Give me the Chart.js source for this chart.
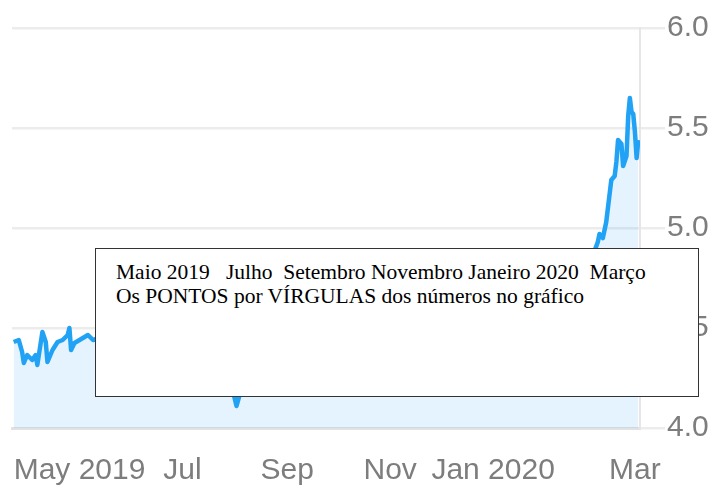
<!DOCTYPE html>
<html>
<head>
<meta charset="utf-8">
<script src="https://cdn.jsdelivr.net/npm/chart.js@4"></script>
<style>
  body { margin: 0; background: #fff; }
  #wrap { position: relative; width: 712px; height: 489px; }
  #note {
    position: absolute; left: 95px; top: 248px; width: 604px; height: 149px;
    border: 1.5px solid #333; background: #fff; box-sizing: border-box;
    font-family: "Liberation Serif", "Times New Roman", serif; font-size: 21.5px;
    line-height: 24px; color: #000; white-space: pre; padding: 11px 0 0 20px;
  }
</style>
</head>
<body>
<div id="wrap">
  <canvas id="rateChart" width="712" height="489"></canvas>
  <div id="note">Maio 2019   Julho  Setembro Novembro Janeiro 2020  Março
Os PONTOS por VÍRGULAS dos números no gráfico</div>
</div>
<script>
// days counted from 1 May 2019
const days = [-39, -36, -34, -33, -31, -28, -26, -25, -22, -20, -19, -16, -13, -10, -7, -6, -5, -3, 0, 3, 5, 8,
    12, 18, 24, 30, 36, 42, 48, 54, 60, 65, 71, 77, 83, 88, 91, 93, 96, 101, 107, 113, 119, 125, 131, 137,
    143, 149, 155, 161, 167, 173, 179, 185, 191, 197, 203, 209, 215, 221, 227, 233, 239, 245, 251, 257,
    263, 269, 275, 281, 287, 293, 299, 302,
    304, 307, 308, 310, 312, 314, 315, 317, 318, 319, 321, 322, 324, 325, 326, 327, 328, 329, 330, 331];
const rates = [4.43, 4.44, 4.38, 4.325, 4.365, 4.34, 4.365, 4.315, 4.48, 4.43, 4.33, 4.39, 4.43, 4.44, 4.465, 4.50, 4.39, 4.425, 4.44, 4.455, 4.465, 4.44,
    4.45, 4.50, 4.55, 4.52, 4.47, 4.40, 4.37, 4.36, 4.32, 4.30, 4.26, 4.22, 4.20, 4.22, 4.18, 4.11, 4.20, 4.27, 4.33, 4.40, 4.47, 4.52, 4.55, 4.58,
    4.60, 4.56, 4.53, 4.50, 4.55, 4.58, 4.55, 4.52, 4.55, 4.63, 4.66, 4.68, 4.62, 4.58, 4.55, 4.52, 4.50, 4.53, 4.58, 4.62,
    4.66, 4.68, 4.70, 4.73, 4.76, 4.78, 4.80, 4.82,
    4.86, 4.93, 4.97, 4.95, 5.03, 5.17, 5.24, 5.26, 5.33, 5.44, 5.42, 5.31, 5.36, 5.56, 5.65, 5.58, 5.57, 5.48, 5.35, 5.44];

// x tick positions (days) and their labels
const monthTicks = [0, 61, 123, 184, 245, 329];
const monthLabels = ['May 2019', 'Jul', 'Sep', 'Nov', 'Jan 2020', 'Mar'];
const yTicks = [4.0, 4.5, 5.0, 5.5, 6.0];

const tickFont = { family: '"Liberation Sans", Arial, sans-serif', size: 30 };
const tickColor = '#7d7d7d';

new Chart(document.getElementById('rateChart'), {
    type: 'line',
    data: {
        datasets: [{
            data: days.map((d, i) => ({ x: d, y: rates[i] })),
            borderColor: '#22a2f4',
            backgroundColor: 'rgba(33, 160, 240, 0.12)',
            borderWidth: 4.5,
            borderJoinStyle: 'round',
            pointRadius: 0,
            tension: 0,
            fill: 'start'
        }]
    },
    options: {
        responsive: false,
        animation: false,
        layout: { padding: { left: 12, top: 28, right: 0, bottom: 0 } },
        plugins: { legend: { display: false }, tooltip: { enabled: false } },
        scales: {
            x: {
                type: 'linear',
                min: -40,
                max: 332,
                afterBuildTicks: s => { s.ticks = monthTicks.map(v => ({ value: v })); },
                afterFit: s => {
                    s.height = 61;
                    s.paddingLeft = 0;
                    s.paddingRight = 0;
                },
                grid: { display: false, drawTicks: false },
                border: { display: true, color: '#e2e2e2', width: 3 },
                ticks: {
                    autoSkip: false,
                    maxRotation: 0,
                    padding: 25,
                    font: tickFont,
                    color: tickColor,
                    callback: v => monthLabels[monthTicks.indexOf(v)]
                }
            },
            y: {
                position: 'right',
                min: 4,
                max: 6,
                afterBuildTicks: s => { s.ticks = yTicks.map(v => ({ value: v })); },
                afterFit: s => { s.width = 72; },
                grid: { color: '#ececec', lineWidth: 2.5, tickLength: 25, tickColor: '#ececec' },
                border: { display: true, color: '#e6e6e6', width: 2 },
                ticks: {
                    padding: 2,
                    font: tickFont,
                    color: tickColor,
                    callback: v => v.toFixed(1)
                }
            }
        }
    }
});
</script>
</body>
</html>
